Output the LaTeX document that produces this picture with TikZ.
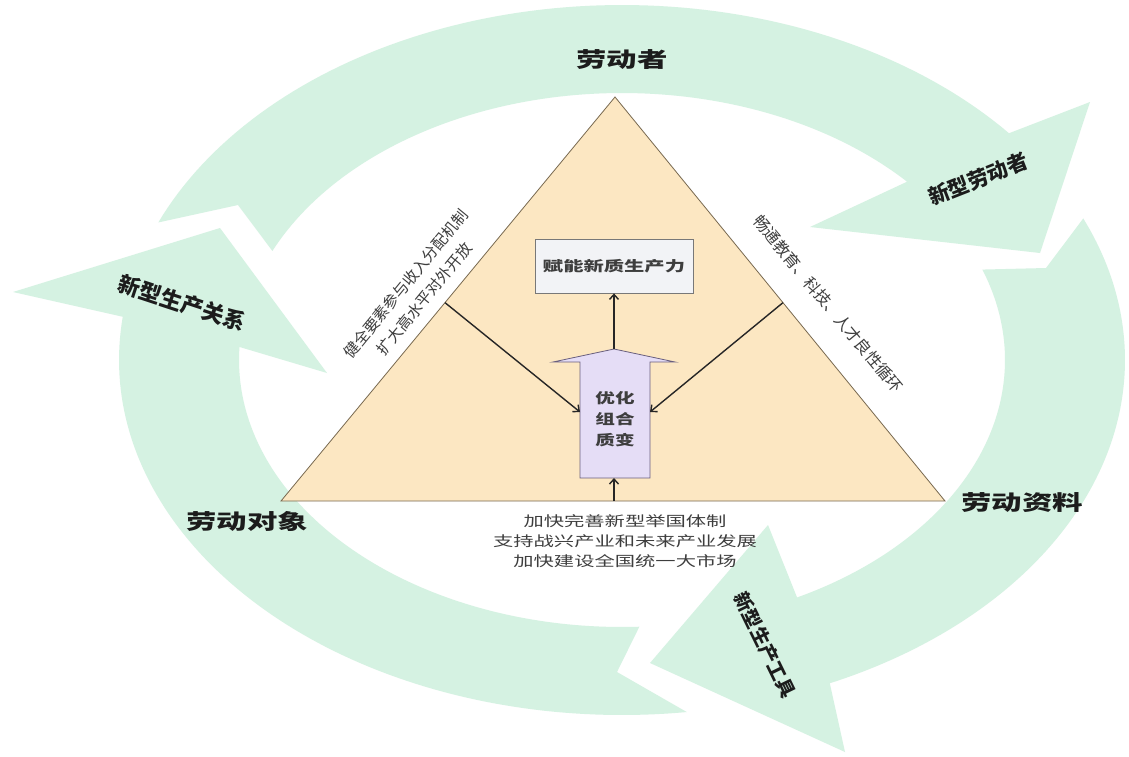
\documentclass[tikz,border=0pt]{standalone}
\usepackage{fontspec}
\setmainfont{Noto Sans CJK SC}
\usetikzlibrary{arrows.meta,calc}
\definecolor{ringc}{RGB}{213,242,226}
\definecolor{trifill}{RGB}{252,231,194}
\definecolor{tridraw}{RGB}{120,105,80}
\definecolor{boxfill}{RGB}{242,243,246}
\definecolor{boxdraw}{RGB}{120,120,120}
\definecolor{purfill}{RGB}{229,221,246}
\definecolor{purdraw}{RGB}{105,95,125}
\definecolor{txt}{RGB}{28,28,28}
\definecolor{gtxt}{RGB}{62,62,62}
\begin{document}
\begin{tikzpicture}[x=1pt,y=-1pt,
  ringarrow/.style={fill=ringc},
  stretch/.style={xscale=1.45},
  mainlab/.style={font=\fontsize{21}{24}\selectfont\bfseries, text=txt},
  headlab/.style={font=\fontsize{21}{24}\selectfont\bfseries, text=txt},
  edgetxt/.style={font=\fontsize{15.5}{24}\selectfont, text=gtxt, align=center},
  conn/.style={draw=black!85, line width=1.4pt, -{Straight Barb[length=5pt,width=9pt]}},
]
\useasboundingbox (0,0) rectangle (1129,756);
\fill[white] (0,0) rectangle (1129,756);

% ring arrows
\fill[ringarrow] plot[domain=202.8:320.3,samples=90] ({622+503*cos(\x)},{360+355*sin(\x)})
  -- (1090,102) -- (1040,253) -- (810,227)
  -- plot[domain=318.1:204.1,samples=90] ({622+383*cos(\x)},{360+267*sin(\x)})
  -- (238,205) -- cycle;
\fill[ringarrow] plot[domain=-23.5:65.6,samples=90] ({622+503*cos(\x)},{360+355*sin(\x)})
  -- (845,752) -- (650,663) -- (768,525)
  -- plot[domain=62.8:-19.8,samples=90] ({622+383*cos(\x)},{360+267*sin(\x)})
  -- (1046,268) -- cycle;
\fill[ringarrow] plot[domain=82.6:187,samples=90] ({622+503*cos(\x)},{360+355*sin(\x)})
  -- (13,292) -- (220,228) -- (327,373)
  -- plot[domain=182.8:87.4,samples=90] ({622+383*cos(\x)},{360+267*sin(\x)})
  -- (617,672) -- cycle;

% triangle
\coordinate (apex) at (615,97);
\coordinate (bl) at (281,501);
\coordinate (br) at (945,501);
\draw[fill=trifill, draw=tridraw, line width=0.8pt] (apex) -- (bl) -- (br) -- cycle;

% labels
\node[mainlab, shift={(622,60)}, stretch] (laodongzhe) {劳动者};
\node[mainlab, shift={(247,521)}, stretch] (duixiang) {劳动对象};
\node[mainlab, shift={(1022,503)}, stretch] (ziliao) {劳动资料};
\node[headlab, rotate=21.5] (h1) at (978,179) {新型劳动者};
\node[headlab, font=\fontsize{22}{24}\selectfont\bfseries, rotate=-18.2] (h3) at (182,303) {新型生产关系};
\node[headlab, font=\fontsize{19}{22}\selectfont\bfseries, rotate=-64] (h2) at (765,645) {新型生产工具};

\node[edgetxt, rotate=50.7] (lefttxt) at (415,291) {健全要素参与收入分配机制\\扩大高水平对外开放};
\node[edgetxt, font=\fontsize{16}{22}\selectfont, rotate=-50.5] (righttxt) at (828,304) {畅通教育、科技、人才良性循环};
\node[edgetxt, font=\fontsize{14}{20}\selectfont, shift={(625,541)}, stretch] (bottomtxt) {加快完善新型举国体制\\支持战兴产业和未来产业发展\\加快建设全国统一大市场};

% center box
\node[draw=boxdraw, fill=boxfill, line width=0.8pt, minimum width=158, minimum height=54] (funeng) at (614,266) {};
\node[font=\fontsize{14}{18}\selectfont\bfseries, text=gtxt, shift={(614,266)}, stretch] (funengtxt) {赋能新质生产力};

% block arrow
\draw[fill=purfill, draw=purdraw, line width=0.8pt] (580,478) -- (580,362) -- (553,362) -- (614,349)
  -- (675,362) -- (650,362) -- (650,478) -- cycle;
\node[font=\fontsize{14}{21}\selectfont\bfseries, text=gtxt, align=center, shift={(615,419)}, xscale=1.4] (youhua) {优化\\组合\\质变};

% connectors
\coordinate (lstart) at ($(apex)!0.509!(bl)$);
\coordinate (rstart) at ($(apex)!0.509!(br)$);
\coordinate (shaftL) at (580,412);
\coordinate (shaftR) at (650,412);
\coordinate (atip) at (614,349);
\coordinate (abot) at (614,478);
\coordinate (basept) at ($(bl)!(abot)!(br)$);
\draw[conn] (lstart) -- (shaftL);
\draw[conn] (rstart) -- (shaftR);
\draw[conn] (atip) -- (funeng.south);
\draw[conn] (basept) -- (abot);
\end{tikzpicture}
\end{document}
